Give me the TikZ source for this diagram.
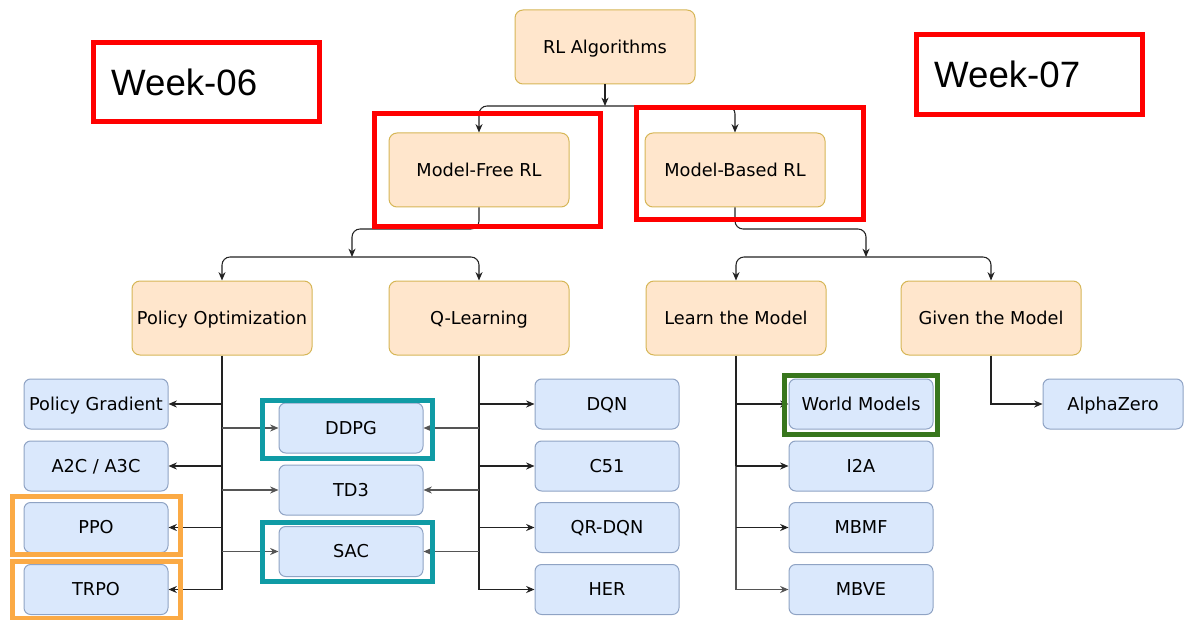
\documentclass[tikz,border=0pt]{standalone}
\usepackage{fontspec}
\setmainfont{DejaVu Sans}
\newfontfamily\arialfont{Liberation Sans}
\usetikzlibrary{arrows.meta}
\definecolor{ofill}{HTML}{FFE6CC}
\definecolor{odraw}{HTML}{D6B656}
\definecolor{bfill}{HTML}{DAE8FC}
\definecolor{bdraw}{HTML}{8FA3C4}
\definecolor{redhl}{HTML}{FF0000}
\definecolor{tealhl}{HTML}{109BA5}
\definecolor{orahl}{HTML}{FBAA45}
\definecolor{greenhl}{HTML}{38761D}
\definecolor{linec}{HTML}{222222}
\definecolor{grayc}{HTML}{555555}
\begin{document}
\begin{tikzpicture}[x=0.75pt,y=-0.75pt,
  obox/.style={draw=odraw, fill=ofill, rounded corners=6pt, line width=0.75pt,
    minimum width=135pt, minimum height=55.5pt, inner xsep=1pt,
    text height=9.7pt, text depth=0pt,
    font=\fontsize{13.3}{15}\selectfont},
  bbox/.style={draw=bdraw, fill=bfill, rounded corners=5pt, line width=0.75pt,
    minimum width=108pt, minimum height=37.5pt, inner xsep=1pt,
    text height=9.7pt, text depth=0pt,
    font=\fontsize{13.3}{15}\selectfont},
  hl/.style={draw=#1, line width=3.75pt, inner sep=0pt},
  weekbox/.style={draw=redhl, line width=3.75pt, inner xsep=13pt, text width=143pt,
    align=left, minimum height=59.5pt, font=\arialfont\fontsize{27.5}{30}\selectfont},
  conn/.style={draw=linec, line width=0.8pt, -{Stealth[length=6.3pt,width=5.3pt]}},
  gconn/.style={draw=grayc, line width=0.8pt, -{Stealth[length=6.3pt,width=5.3pt]}},
  trunk/.style={draw=linec, line width=0.8pt},
]
\useasboundingbox (0,0) rectangle (1184,620);

% orange nodes
\node[obox] (rl) at (605,47) {RL Algorithms};
\node[obox] (mf) at (479,170) {Model-Free RL};
\node[obox] (mb) at (735,170) {Model-Based RL};
\node[obox] (po) at (222,318) {Policy Optimization};
\node[obox] (ql) at (479,318) {Q-Learning};
\node[obox] (lm) at (736,318) {Learn the Model};
\node[obox] (gm) at (991,318) {Given the Model};

% blue nodes
\node[bbox] (pg) at (96,404) {Policy Gradient};
\node[bbox] (a2c) at (96,466) {A2C / A3C};
\node[bbox] (ppo) at (96,527.5) {PPO};
\node[bbox] (trpo) at (96,589.5) {TRPO};
\node[bbox] (ddpg) at (351,428) {DDPG};
\node[bbox] (td3) at (351,490) {TD3};
\node[bbox] (sac) at (351,551.5) {SAC};
\node[bbox] (dqn) at (607,404) {DQN};
\node[bbox] (c51) at (607,466) {C51};
\node[bbox] (qr) at (607,527.5) {QR-DQN};
\node[bbox] (her) at (607,589.5) {HER};
\node[bbox] (wm) at (861,404) {World Models};
\node[bbox] (i2a) at (861,466) {I2A};
\node[bbox] (mbmf) at (861,527.5) {MBMF};
\node[bbox] (mbve) at (861,589.5) {MBVE};
\node[bbox, minimum width=105pt] (az) at (1113,404) {AlphaZero};

% junctions
\coordinate (j0) at (605,106);
\coordinate (j1) at (352,257);
\coordinate (j2) at (866,257);

% top connectors
\draw[conn] (rl.south) -- (j0);
\draw[conn, rounded corners=6pt] (j0) -| (mf.north);
\draw[conn, rounded corners=6pt] (j0) -| (mb.north);
\draw[conn, rounded corners=6pt] (mf.south) |- (400,229) -| (j1);
\draw[conn, rounded corners=6pt] (j1) -| (po.north);
\draw[conn, rounded corners=6pt] (j1) -| (ql.north);
\draw[conn, rounded corners=6pt] (mb.south) |- (800,229) -| (j2);
\draw[conn, rounded corners=6pt] (j2) -| (lm.north);
\draw[conn, rounded corners=6pt] (j2) -| (gm.north);

% policy optimization trunk
\draw[trunk] (po.south) -- (po.south |- trpo);
\draw[conn] (po.south |- pg) -- (pg.east);
\draw[conn] (po.south |- a2c) -- (a2c.east);
\draw[conn] (po.south |- ppo) -- (ppo.east);
\draw[conn] (po.south |- trpo) -- (trpo.east);
\draw[gconn] (po.south |- ddpg) -- (ddpg.west);
\draw[gconn] (po.south |- td3) -- (td3.west);
\draw[gconn] (po.south |- sac) -- (sac.west);

% Q-learning trunk
\draw[trunk] (ql.south) -- (ql.south |- her);
\draw[conn] (ql.south |- dqn) -- (dqn.west);
\draw[conn] (ql.south |- c51) -- (c51.west);
\draw[conn] (ql.south |- qr) -- (qr.west);
\draw[conn] (ql.south |- her) -- (her.west);
\draw[gconn] (ql.south |- ddpg) -- (ddpg.east);
\draw[gconn] (ql.south |- td3) -- (td3.east);
\draw[gconn] (ql.south |- sac) -- (sac.east);

% learn the model trunk
\draw[trunk] (lm.south) -- (lm.south |- i2a);
\draw[trunk, draw=grayc] (lm.south |- i2a) -- (lm.south |- mbve);
\draw[conn] (lm.south |- wm) -- (wm.west);
\draw[conn] (lm.south |- i2a) -- (i2a.west);
\draw[conn] (lm.south |- mbmf) -- (mbmf.west);
\draw[gconn] (lm.south |- mbve) -- (mbve.west);

% given the model
\draw[conn] (gm.south) |- (az.west);

% highlight frames
\node[hl=redhl, minimum width=169.5pt, minimum height=84.5pt] (hmf) at (487.5,170) {};
\node[hl=redhl, minimum width=170pt, minimum height=84pt] (hmb) at (750,163.5) {};
\node[hl=tealhl, minimum width=127.5pt, minimum height=43.5pt] (hddpg) at (347,429.5) {};
\node[hl=tealhl, minimum width=127.5pt, minimum height=44pt] (hsac) at (347,552) {};
\node[hl=orahl, minimum width=126pt, minimum height=43.5pt] (hppo) at (96.5,525.5) {};
\node[hl=orahl, minimum width=126pt, minimum height=43pt] (htrpo) at (96.5,590) {};
\node[hl=greenhl, minimum width=114.5pt, minimum height=44.5pt] (hwm) at (861,405) {};

% week labels
\node[weekbox] (w6) at (206.5,82) {Week-06};
\node[weekbox] (w7) at (1029.5,74.5) {Week-07};
\end{tikzpicture}
\end{document}
